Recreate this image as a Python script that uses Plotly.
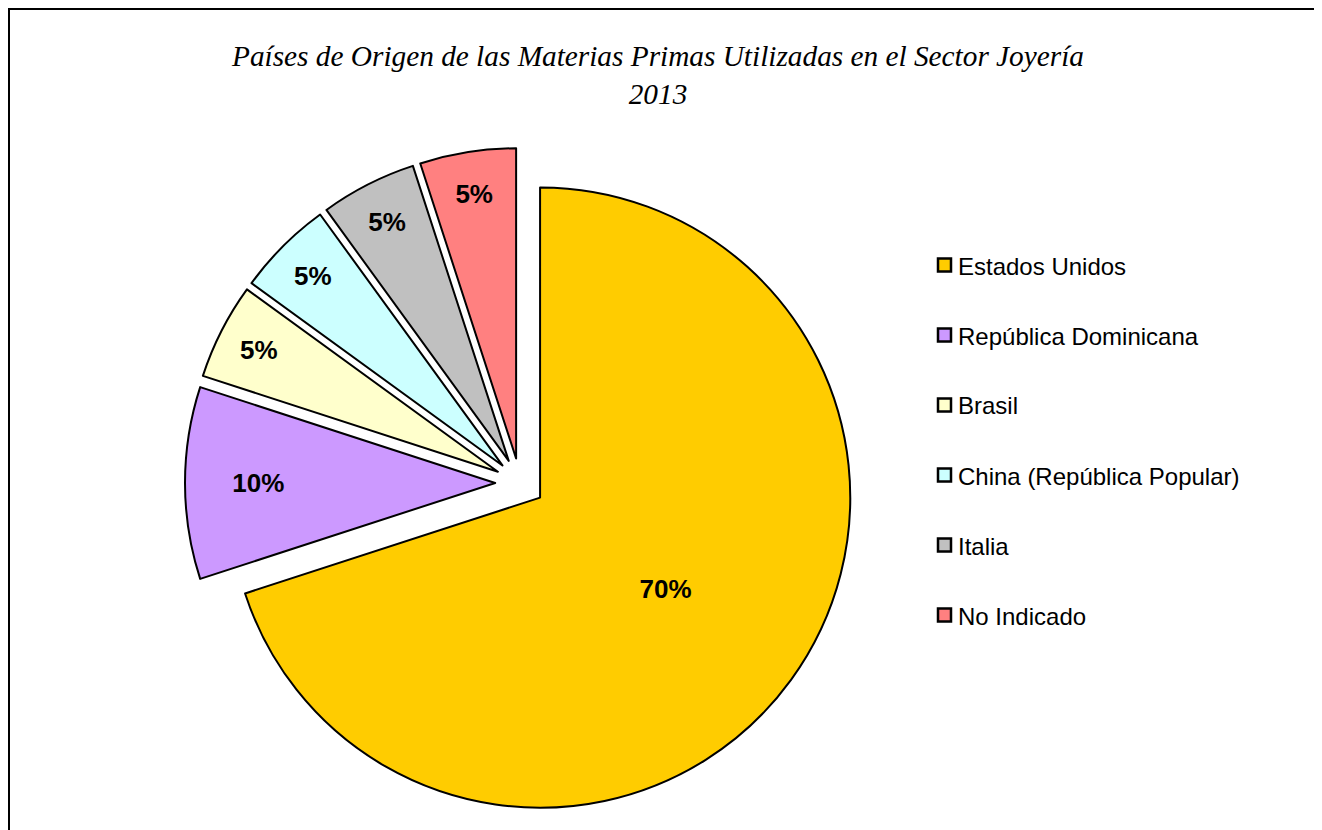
import plotly.graph_objects as go

labels = ["Estados Unidos", "República Dominicana", "Brasil",
          "China (República Popular)", "Italia", "No Indicado"]
values = [70, 10, 5, 5, 5, 5]
colors = ["#FFCC00", "#CC99FF", "#FFFFCC", "#CCFFFF", "#C0C0C0", "#FF8080"]
title_lines = ["Países de Origen de las Materias Primas Utilizadas en el Sector Joyería", "2013"]

W, H = 1322, 830
OX, OY = 8, 8  # page body offset


def px(x):
    return (x - OX) / W


def py(y):
    return 1 - (y - OY) / H


fig = go.Figure()
fig.add_trace(go.Pie(
    labels=labels, values=values, sort=False, direction="clockwise", rotation=0,
    pull=[0.08] * len(values),
    marker=dict(colors=colors, line=dict(color="black", width=2)),
    textinfo="percent", textposition="inside", insidetextorientation="horizontal",
    textfont=dict(family="Liberation Sans, Arial", size=26, color="black", weight="bold"),
    showlegend=False, hoverinfo="label+percent",
    domain=dict(x=[px(185), px(855)], y=[py(818), py(148)]),
))

shapes = []
annotations = []
# frame
shapes.append(dict(type="line", xref="paper", yref="paper", x0=px(9), x1=px(9), y0=py(9), y1=-0.05,
                   line=dict(color="black", width=2)))
shapes.append(dict(type="line", xref="paper", yref="paper", x0=px(8), x1=1.05, y0=py(9), y1=py(9),
                   line=dict(color="black", width=2)))

# legend
for i, (lab, col) in enumerate(zip(labels, colors)):
    yc = 265 + 70 * i
    shapes.append(dict(type="rect", xref="paper", yref="paper",
                       x0=px(938), x1=px(951), y0=py(yc + 6.5), y1=py(yc - 6.5),
                       fillcolor=col, line=dict(color="black", width=2.5)))
    annotations.append(dict(xref="paper", yref="paper", x=px(956), y=py(yc + 1), text=lab,
                            showarrow=False, xanchor="left", yanchor="middle",
                            font=dict(family="Liberation Sans, Arial", size=24, color="black")))

fig.update_layout(
    width=W, height=H, autosize=False,
    margin=dict(l=0, r=0, t=0, b=0),
    paper_bgcolor="white", plot_bgcolor="white",
    title=dict(text="<br>".join(title_lines), x=px(658), xanchor="center", y=py(66), yanchor="middle",
               font=dict(family="Liberation Serif, Times New Roman", size=29.3, color="black", style="italic")),
    shapes=shapes, annotations=annotations,
)

fig.write_html("out.html")
